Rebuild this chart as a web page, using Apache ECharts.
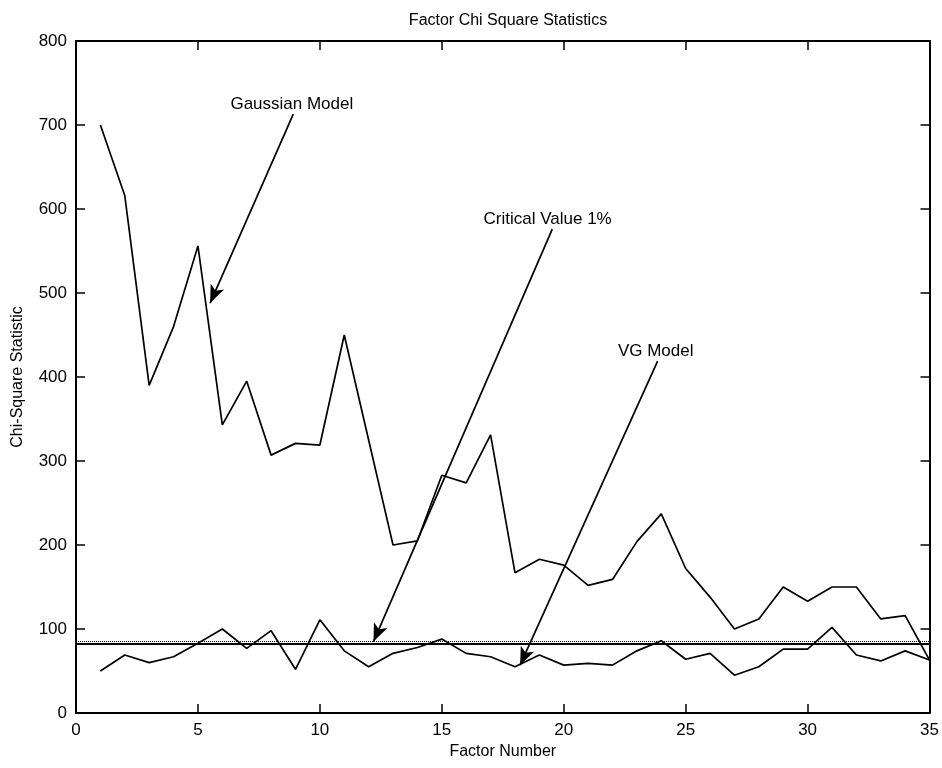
<!DOCTYPE html>
<html>
<head>
<meta charset="utf-8">
<title>Factor Chi Square Statistics</title>
<script src="https://cdn.jsdelivr.net/npm/echarts@6/dist/echarts.min.js"></script>
<style>
  html, body { margin: 0; padding: 0; background: #fff; }
  #chart { width: 942px; height: 768px; }
</style>
</head>
<body>
<div id="chart"></div>
<script>
// Factor index 1..35
const factors = [1,2,3,4,5,6,7,8,9,10,11,12,13,14,15,16,17,18,19,20,21,22,23,24,25,26,27,28,29,30,31,32,33,34,35];

// Chi-square statistic per factor, Gaussian model
const gaussianStat = [700,616,390,460,556,343,395,307,321,319,450,325,200,205,283,274,331,167,183,176,152,159,204,237,172,138,100,112,150,133,150,150,112,116,63];

// Chi-square statistic per factor, VG model
const vgStat = [50,69,60,67,83,100,77,98,52,111,74,55,71,78,88,71,67,55,69,57,59,57,74,86,64,71,45,55,76,76,102,69,62,74,63];

// Critical value levels (solid, dotted)
const criticalSolid = 82;
const criticalDotted = 85;

// Axis ticks
const xTicks = { min: 0, max: 35, interval: 5 };
const yTicks = { min: 0, max: 800, interval: 100 };

// Callout texts with the arrows pointing at the curves (data coordinates)
const calloutText = ['Gaussian Model', 'Critical Value 1%', 'VG Model'];
const calloutLabelAt = [[8.85, 725], [19.34, 588], [23.77, 431]];
const calloutFrom = [[8.91, 713], [19.53, 576], [23.85, 419]];
const calloutTo = [[5.5, 488], [12.2, 85], [18.21, 57]];

const FONT = 'Liberation Sans, Arial, Helvetica, sans-serif';
const black = '#000';

const chart = echarts.init(document.getElementById('chart'), null, { renderer: 'canvas' });

const pairs = (ys) => factors.map((x, i) => [x, ys[i]]);

const axisCommon = {
  axisLine: { show: true, onZero: false, lineStyle: { color: black, width: 2 } },
  axisTick: { show: true, inside: true, length: 9, lineStyle: { color: black, width: 1.5 } },
  splitLine: { show: false }
};

const option = {
  animation: false,
  backgroundColor: '#fff',
  title: {
    text: 'Factor Chi Square Statistics',
    left: 503, top: 8, textAlign: 'center',
    textStyle: { fontFamily: FONT, fontSize: 16, fontWeight: 'normal', color: black }
  },
  grid: { left: 76, right: 12, top: 41, bottom: 55, containLabel: false },
  xAxis: [
    Object.assign({
      type: 'value', position: 'bottom',
      min: xTicks.min, max: xTicks.max, interval: xTicks.interval,
      name: 'Factor Number', nameLocation: 'middle', nameGap: 27,
      nameTextStyle: { fontFamily: FONT, fontSize: 16, color: black },
      axisLabel: { fontFamily: FONT, fontSize: 17, color: black, margin: 9 }
    }, axisCommon),
    Object.assign({
      type: 'value', position: 'top',
      min: xTicks.min, max: xTicks.max, interval: xTicks.interval,
      axisLabel: { show: false }
    }, axisCommon)
  ],
  yAxis: [
    Object.assign({
      type: 'value', position: 'left',
      min: yTicks.min, max: yTicks.max, interval: yTicks.interval,
      name: 'Chi-Square Statistic', nameLocation: 'middle', nameGap: 50,
      nameTextStyle: { fontFamily: FONT, fontSize: 16, color: black },
      axisLabel: { fontFamily: FONT, fontSize: 17, color: black, margin: 9 }
    }, axisCommon),
    Object.assign({
      type: 'value', position: 'right',
      min: yTicks.min, max: yTicks.max, interval: yTicks.interval,
      axisLabel: { show: false }
    }, axisCommon)
  ],
  series: [
    {
      name: 'Gaussian Model', type: 'line', data: pairs(gaussianStat),
      showSymbol: false, symbol: 'none',
      lineStyle: { color: black, width: 1.7 }
    },
    {
      name: 'VG Model', type: 'line', data: pairs(vgStat),
      showSymbol: false, symbol: 'none',
      lineStyle: { color: black, width: 1.7 },
      markLine: {
        silent: true, symbol: 'none', label: { show: false },
        data: [
          { yAxis: criticalSolid, lineStyle: { color: black, width: 2, type: 'solid' } },
          { yAxis: criticalDotted, lineStyle: { color: black, width: 1, type: [1, 1] } }
        ]
      }
    },
    {
      name: 'callouts', type: 'scatter', symbolSize: 0,
      itemStyle: { color: black, opacity: 1 },
      data: calloutLabelAt.map((p, i) => ({ value: p, name: calloutText[i] })),
      label: {
        show: true, position: 'inside', formatter: '{b}',
        fontFamily: FONT, fontSize: 17, color: black, opacity: 1,
        textBorderWidth: 0
      },
      markLine: {
        silent: true, animation: false,
        symbol: ['none', 'arrow'], symbolSize: [11, 18],
        label: { show: false },
        lineStyle: { color: black, width: 1.7, type: 'solid', opacity: 1 },
        itemStyle: { color: black },
        data: calloutFrom.map((p, i) => [{ coord: p }, { coord: calloutTo[i] }])
      }
    }
  ]
};

chart.setOption(option);
</script>
</body>
</html>
